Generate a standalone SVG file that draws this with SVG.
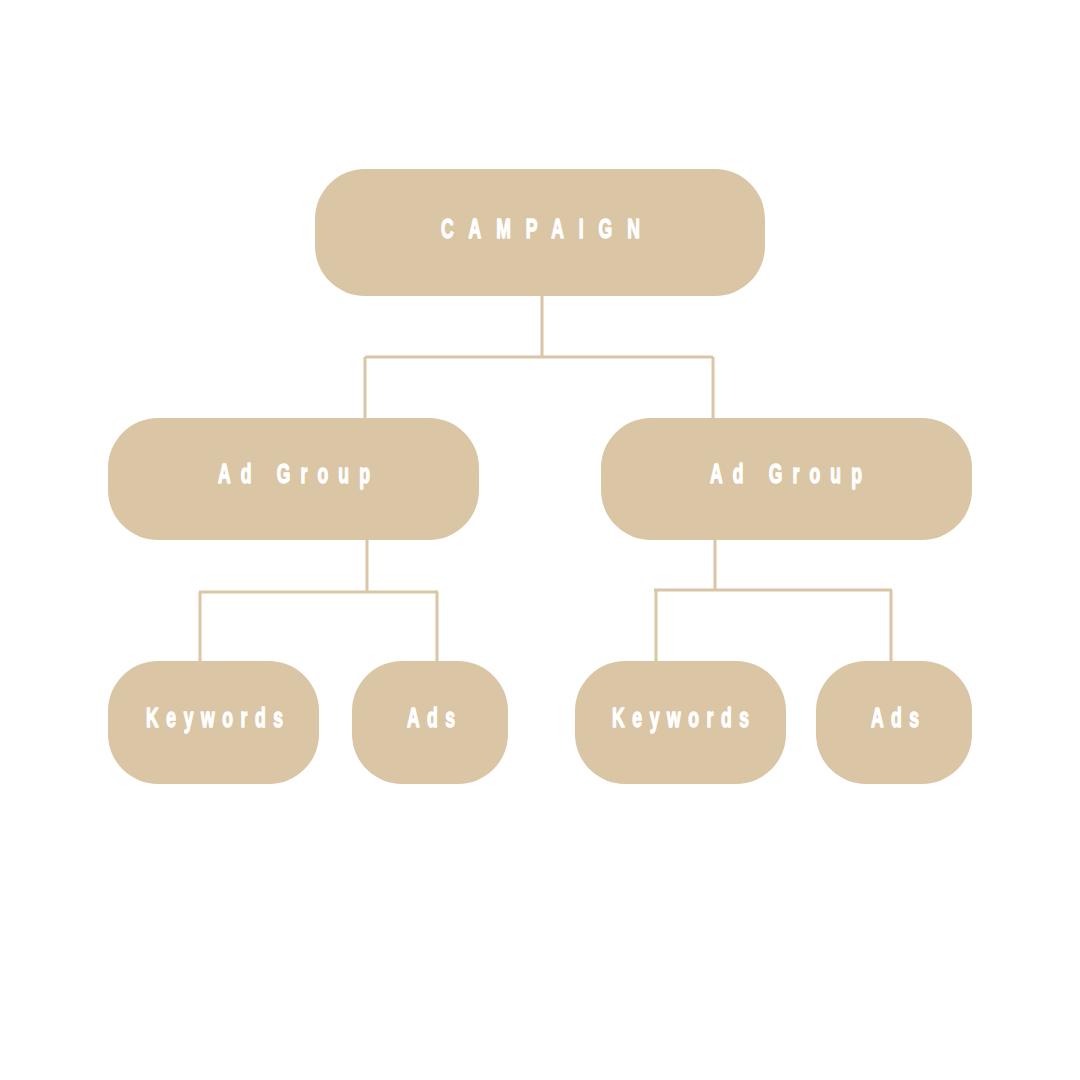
<svg xmlns="http://www.w3.org/2000/svg" width="1080" height="1080" viewBox="0 0 1080 1080">
<style>
.n{fill:#dac5a5}
.t{fill:#ffffff;stroke:#ffffff;stroke-width:1.4;stroke-linejoin:round;font-family:"Liberation Sans",Arial,sans-serif;font-weight:bold;font-size:27px}
.c{fill:none;stroke:#dac5a5;stroke-width:3}
</style>
<rect width="1080" height="1080" fill="#ffffff"/>
<g id="connectors">
<path class="c" d="M542 296V357M365 357H713M365 357V418M713 357V418"/>
<path class="c" d="M367 540V592M199 592H438M200 592V661M437 592V661"/>
<path class="c" d="M715 540V590M654 590H892M656 590V661M891 590V661"/>
</g>
<g id="campaign"><rect class="n" x="315" y="169" width="450" height="127" rx="50"/><text class="t" transform="translate(441 238) scale(0.65 1)" letter-spacing="23">CAMPAIGN</text></g>
<g id="adgroup-left"><rect class="n" x="108" y="418" width="371" height="122" rx="50"/><text class="t" transform="translate(218 483) scale(0.65 1)" letter-spacing="15.6">Ad Group</text></g>
<g id="adgroup-right"><rect class="n" x="601" y="418" width="371" height="122" rx="50"/><text class="t" transform="translate(710 483) scale(0.65 1)" letter-spacing="15.6">Ad Group</text></g>
<g id="keywords-left"><rect class="n" x="108" y="661" width="211" height="123" rx="50"/><text class="t" transform="translate(146 727) scale(0.65 1)" letter-spacing="11.7">Keywords</text></g>
<g id="ads-left"><rect class="n" x="352" y="661" width="156" height="123" rx="50"/><text class="t" transform="translate(407 727) scale(0.65 1)" letter-spacing="11.4">Ads</text></g>
<g id="keywords-right"><rect class="n" x="575" y="661" width="211" height="123" rx="50"/><text class="t" transform="translate(612 727) scale(0.65 1)" letter-spacing="11.7">Keywords</text></g>
<g id="ads-right"><rect class="n" x="816" y="661" width="156" height="123" rx="50"/><text class="t" transform="translate(871 727) scale(0.65 1)" letter-spacing="11.4">Ads</text></g>
</svg>
